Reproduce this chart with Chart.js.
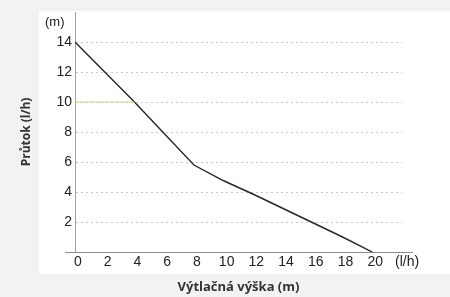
<!DOCTYPE html>
<html>
<head>
<meta charset="utf-8">
<script src="https://cdn.jsdelivr.net/npm/chart.js@4.4.1/dist/chart.umd.min.js"></script>
<style>
  html, body { margin: 0; padding: 0; background: #f1f2f2; }
  canvas { display: block; }
</style>
</head>
<body>
<canvas id="pumpChart" width="450" height="297"></canvas>
<script>
// data
const headValues = [0, 2, 4, 6, 8, 10, 12, 14, 16, 18, 20];
const flowValues = [14, 12, 10, 7.9, 5.8, 4.75, 3.85, 2.9, 1.95, 1.0, 0];
const highlightX = [0, 4];
const highlightY = [10, 10];
const xTicks = [0, 2, 4, 6, 8, 10, 12, 14, 16, 18, 20];
const yTicks = [2, 4, 6, 8, 10, 12, 14];

const TICK_FONT = { family: "'Liberation Sans', Arial, sans-serif", size: 14 };

// panel, extended x axis line and unit labels
const decor = {
  id: "decor",
  beforeDraw(chart) {
    const { ctx } = chart;
    ctx.save();
    ctx.fillStyle = "#f1f2f2";
    ctx.fillRect(0, 0, chart.width, chart.height);
    ctx.fillStyle = "#ffffff";
    ctx.fillRect(39, 11, chart.width - 39, 263);
    ctx.restore();
  },
  afterDatasetsDraw(chart) {
    const { ctx, chartArea, scales } = chart;
    const y0 = scales.y.getPixelForValue(0);
    ctx.save();
    ctx.strokeStyle = "#8a8a8a";
    ctx.lineWidth = 1;
    ctx.beginPath();
    ctx.moveTo(chartArea.left - 10, Math.round(y0) + 0.5);
    ctx.lineTo(chartArea.right + 11, Math.round(y0) + 0.5);
    ctx.stroke();

    ctx.fillStyle = "#222";
    ctx.font = "13px 'Liberation Sans', Arial, sans-serif";
    ctx.textBaseline = "middle";
    ctx.textAlign = "left";
    ctx.fillText("(m)", 45, 22);
    ctx.font = "14px 'Liberation Sans', Arial, sans-serif";
    ctx.fillText("(l/h)", 395, 262);
    ctx.restore();
  }
};

new Chart(document.getElementById("pumpChart"), {
  type: "line",
  plugins: [decor],
  data: {
    datasets: [
      {
        label: "highlight",
        data: highlightX.map((x, i) => ({ x, y: highlightY[i] })),
        borderColor: "#cfd68a",
        borderWidth: 1,
        pointRadius: 0,
        tension: 0
      },
      {
        label: "Průtok",
        data: headValues.map((x, i) => ({ x, y: flowValues[i] })),
        borderColor: "#262626",
        borderWidth: 1.4,
        pointRadius: 0,
        tension: 0
      }
    ]
  },
  options: {
    responsive: false,
    animation: false,
    layout: { padding: { left: 0, top: 12, right: 48, bottom: 0 } },
    plugins: {
      legend: { display: false },
      tooltip: { enabled: false }
    },
    scales: {
      x: {
        type: "linear",
        min: 0,
        max: 22,
        afterBuildTicks: (scale) => { scale.ticks = xTicks.map(v => ({ value: v })); },
        afterFit: (scale) => { scale.height = 45; },
        ticks: {
          color: "#222",
          font: TICK_FONT,
          padding: 2,
          labelOffset: 3,
          maxRotation: 0,
          autoSkip: false
        },
        grid: { display: false, drawTicks: false },
        border: { display: false },
        title: {
          display: true,
          text: "Výtlačná výška (m)",
          color: "#333",
          font: { family: "'Open Sans', sans-serif", size: 13, weight: "bold" },
          padding: { top: 0, bottom: 2 }
        }
      },
      y: {
        min: 0,
        max: 16,
        afterBuildTicks: (scale) => { scale.ticks = yTicks.map(v => ({ value: v })); },
        afterFit: (scale) => { scale.width = 75; },
        ticks: {
          color: "#222",
          font: TICK_FONT,
          padding: 3
        },
        grid: {
          drawTicks: false,
          color: "#c8c8c8",
          lineWidth: 1
        },
        border: { display: true, color: "#a0a0a0", width: 1, dash: [2, 3], dashOffset: 0 },
        title: {
          display: true,
          text: "Průtok (l/h)",
          color: "#333",
          font: { family: "'Open Sans', sans-serif", size: 12, weight: "bold" },
          padding: { top: 19, bottom: 0 }
        }
      }
    }
  }
});
</script>
</body>
</html>
